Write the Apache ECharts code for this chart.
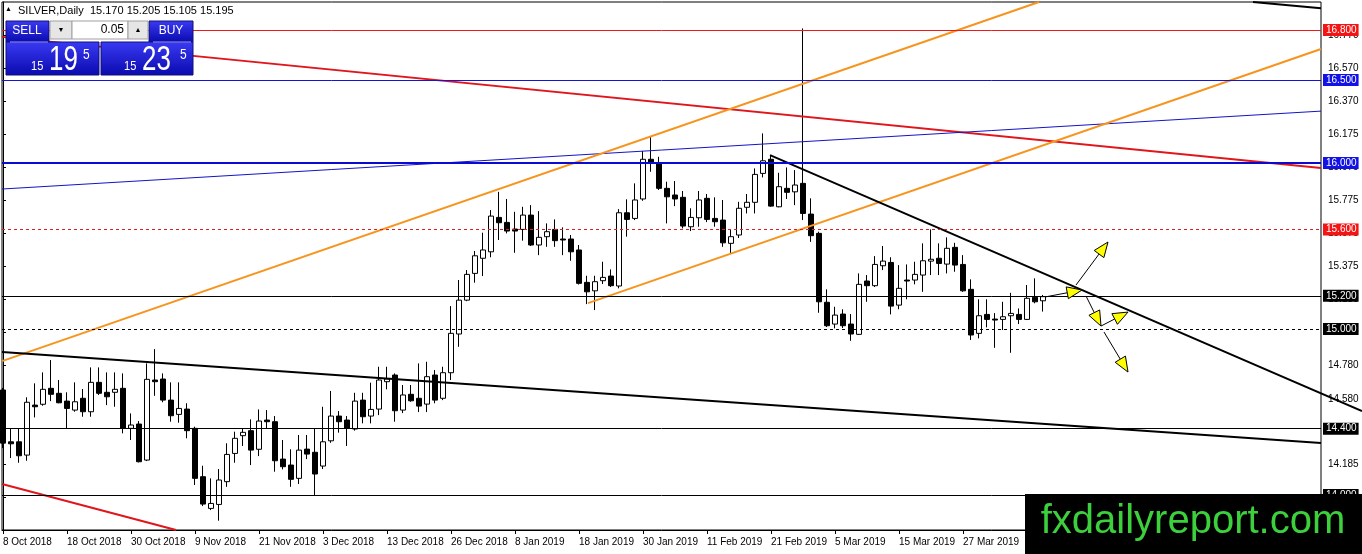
<!DOCTYPE html>
<html><head><meta charset="utf-8">
<script src="https://cdn.jsdelivr.net/npm/echarts@6/dist/echarts.min.js"></script>
<style>html,body{margin:0;padding:0;background:#fff}#c{width:1362px;height:554px}</style>
</head><body><div id="c"></div><script>
// ---------- DATA ----------
const dates = [
'8 Oct 2018','9 Oct 2018','10 Oct 2018','11 Oct 2018','12 Oct 2018','15 Oct 2018','16 Oct 2018','17 Oct 2018','18 Oct 2018','19 Oct 2018',
'22 Oct 2018','23 Oct 2018','24 Oct 2018','25 Oct 2018','26 Oct 2018','29 Oct 2018','30 Oct 2018','31 Oct 2018',
'1 Nov 2018','2 Nov 2018','5 Nov 2018','6 Nov 2018','7 Nov 2018','8 Nov 2018','9 Nov 2018','12 Nov 2018','13 Nov 2018','14 Nov 2018',
'15 Nov 2018','16 Nov 2018','19 Nov 2018','20 Nov 2018','21 Nov 2018','22 Nov 2018','23 Nov 2018','26 Nov 2018','27 Nov 2018','28 Nov 2018',
'29 Nov 2018','30 Nov 2018',
'3 Dec 2018','4 Dec 2018','5 Dec 2018','6 Dec 2018','7 Dec 2018','10 Dec 2018','11 Dec 2018','12 Dec 2018','13 Dec 2018','14 Dec 2018',
'17 Dec 2018','18 Dec 2018','19 Dec 2018','20 Dec 2018','21 Dec 2018','24 Dec 2018','26 Dec 2018','27 Dec 2018','28 Dec 2018','31 Dec 2018',
'2 Jan 2019','3 Jan 2019','4 Jan 2019','7 Jan 2019','8 Jan 2019','9 Jan 2019','10 Jan 2019','11 Jan 2019','14 Jan 2019','15 Jan 2019',
'16 Jan 2019','17 Jan 2019','18 Jan 2019','21 Jan 2019','22 Jan 2019','23 Jan 2019','24 Jan 2019','25 Jan 2019','28 Jan 2019','29 Jan 2019',
'30 Jan 2019','31 Jan 2019',
'1 Feb 2019','4 Feb 2019','5 Feb 2019','6 Feb 2019','7 Feb 2019','8 Feb 2019','11 Feb 2019','12 Feb 2019','13 Feb 2019','14 Feb 2019',
'15 Feb 2019','18 Feb 2019','19 Feb 2019','20 Feb 2019','21 Feb 2019','22 Feb 2019','25 Feb 2019','26 Feb 2019','27 Feb 2019','28 Feb 2019',
'1 Mar 2019','4 Mar 2019','5 Mar 2019','6 Mar 2019','7 Mar 2019','8 Mar 2019','11 Mar 2019','12 Mar 2019','13 Mar 2019','14 Mar 2019',
'15 Mar 2019','18 Mar 2019','19 Mar 2019','20 Mar 2019','21 Mar 2019','22 Mar 2019','25 Mar 2019','26 Mar 2019','27 Mar 2019','28 Mar 2019',
'29 Mar 2019',
'1 Apr 2019','2 Apr 2019','3 Apr 2019','4 Apr 2019','5 Apr 2019','8 Apr 2019','9 Apr 2019','10 Apr 2019'
];
const opens = [
14.633,14.321,14.321,14.241,14.542,14.547,14.643,14.613,14.566,14.512,
14.583,14.502,14.679,14.619,14.619,14.643,14.402,14.428,14.211,14.693,
14.699,14.572,14.486,14.518,14.402,14.111,13.920,13.944,14.081,14.251,
14.358,14.388,14.276,14.452,14.442,14.217,14.181,14.101,14.277,14.258,
14.175,14.327,14.476,14.452,14.398,14.572,14.476,14.518,14.683,14.723,
14.512,14.607,14.583,14.548,14.723,14.583,14.737,14.970,15.174,15.335,
15.426,15.465,15.672,15.642,15.602,15.600,15.686,15.506,15.556,15.600,
15.542,15.542,15.476,15.281,15.230,15.291,15.319,15.259,15.700,15.666,
15.783,16.022,15.998,15.847,15.807,15.793,15.616,15.670,15.787,15.666,
15.656,15.516,15.566,15.733,15.763,15.937,16.022,15.736,15.847,15.826,
15.877,15.692,15.576,15.161,15.030,15.090,15.030,14.968,15.289,15.261,
15.381,15.401,15.144,15.295,15.295,15.325,15.409,15.426,15.391,15.492,
15.389,15.239,14.974,15.088,15.060,15.058,15.080,15.088,15.058,15.191,
15.170];
const highs = [
14.645,14.404,14.404,14.589,14.673,14.739,14.813,14.693,14.619,14.679,
14.639,14.769,14.769,14.739,14.739,14.733,14.492,14.446,14.793,14.879,
14.733,14.679,14.679,14.553,14.412,14.177,14.101,14.157,14.312,14.382,
14.402,14.456,14.516,14.512,14.476,14.332,14.276,14.362,14.362,14.402,
14.532,14.627,14.506,14.476,14.616,14.616,14.677,14.773,14.773,14.733,
14.663,14.663,14.793,14.803,14.753,14.773,15.138,15.295,15.355,15.470,
15.580,15.716,15.826,15.783,15.706,15.736,15.746,15.710,15.636,15.660,
15.612,15.566,15.506,15.321,15.321,15.405,15.359,15.722,15.781,15.877,
16.072,16.162,16.037,15.887,15.891,15.831,15.727,15.831,15.813,15.793,
15.777,15.596,15.766,15.813,15.967,16.178,16.047,15.941,15.973,15.957,
16.810,15.787,15.586,15.239,15.134,15.119,15.090,15.335,15.325,15.439,
15.500,15.432,15.385,15.389,15.405,15.516,15.600,15.516,15.552,15.519,
15.445,15.299,15.179,15.179,15.096,15.164,15.218,15.124,15.265,15.305,
15.205];
const lows = [
14.283,14.223,14.195,14.207,14.468,14.538,14.566,14.553,14.402,14.502,
14.472,14.472,14.603,14.542,14.532,14.372,14.332,14.197,14.205,14.598,
14.559,14.442,14.436,14.342,14.061,13.934,13.910,13.846,14.050,14.195,
14.296,14.181,14.235,14.402,14.141,14.155,14.050,14.067,14.217,14.000,
14.157,14.315,14.376,14.296,14.388,14.432,14.432,14.482,14.637,14.442,
14.494,14.562,14.500,14.500,14.553,14.572,14.693,14.893,15.168,15.279,
15.319,15.432,15.536,15.576,15.459,15.532,15.500,15.445,15.495,15.495,
15.445,15.411,15.268,15.150,15.114,15.271,15.253,15.245,15.556,15.656,
15.772,15.947,15.837,15.636,15.740,15.606,15.590,15.616,15.644,15.616,
15.495,15.456,15.548,15.696,15.696,15.913,15.736,15.733,15.783,15.746,
15.656,15.525,15.098,15.012,15.004,15.006,14.929,14.964,15.164,15.253,
15.355,15.088,15.119,15.179,15.269,15.224,15.325,15.325,15.335,15.345,
15.224,14.934,14.944,15.010,14.887,14.994,14.857,15.030,15.054,15.155,
15.105];
const closes = [
14.313,14.309,14.237,14.559,14.532,14.637,14.607,14.556,14.522,14.562,
14.502,14.679,14.613,14.592,14.637,14.402,14.422,14.201,14.697,14.683,
14.572,14.478,14.522,14.388,14.101,13.946,13.950,14.091,14.245,14.342,
14.378,14.271,14.446,14.442,14.207,14.171,14.095,14.271,14.247,14.127,
14.321,14.476,14.442,14.402,14.566,14.472,14.516,14.693,14.699,14.508,
14.603,14.568,14.536,14.713,14.572,14.737,14.974,15.174,15.329,15.441,
15.476,15.680,15.640,15.590,15.590,15.686,15.506,15.552,15.586,15.532,
15.536,15.465,15.275,15.224,15.285,15.311,15.261,15.700,15.660,15.777,
16.022,16.001,15.847,15.796,15.783,15.620,15.672,15.777,15.660,15.646,
15.519,15.556,15.727,15.763,15.931,16.013,15.740,15.857,15.823,15.867,
15.696,15.562,15.164,15.020,15.084,15.020,14.970,15.269,15.261,15.389,
15.409,15.138,15.245,15.289,15.329,15.411,15.420,15.395,15.486,15.385,
15.230,14.964,15.080,15.058,15.054,15.074,15.094,15.058,15.185,15.164,
15.195];

// price-axis tick labels
const yTickLabels = [16.770,16.570,16.370,16.175,15.975,15.775,15.575,15.375,15.180,14.980,14.780,14.580,14.385,14.185,13.985];
// horizontal levels
const levelValues = [16.800,16.500,16.000,15.600,15.200,15.000,14.400,14.000];
const levelColors = ['#f01818','#1414d8','#0a0ad0','#e01c1c','#000000','#000000','#000000','#000000'];
const levelWidths = [1,1,2,1,1,1,1,1];
const levelDashed = [false,false,false,true,false,true,false,false];
const levelBoxColors = ['#f41414','#1212e6','#1212e6','#f41414','#000000','#000000','#000000','#000000'];

// trend lines: [barIndex, price] endpoints
const redTrend      = [[-0.125,16.759],[164.75,15.969]];
const redLowerTrend = [[-0.125,14.067],[21.625,13.790]];
const blueTrend     = [[-0.125,15.843],[164.75,16.312]];
const orangeUpper   = [[-0.125,14.807],[129.5,16.969]];
const orangeLower   = [[73.125,15.156],[164.75,16.686]];
const blackLower    = [[-0.125,14.861],[164.75,14.314]];
const blackFalling  = [[95.875,16.047],[169.875,14.506]];
const blackTop      = [[156.25,16.969],[164.75,16.932]];
// arrows: [fromIndex, fromPrice, toIndex, toPrice]
const arrows = [
  [130.25,15.193,134.875,15.235],
  [134.125,15.265,138.125,15.524],
  [135.375,15.199,137.25,15.018],
  [137.25,15.018,140.625,15.102],
  [137.625,14.982,140.625,14.741]
];
const xLabelIndices = [0,8,16,24,32,40,48,56,64,72,80,88,96,104,112,120,128];

// ---------- CHART ----------
const FONT = '"Liberation Sans", Arial, sans-serif';
const chart = echarts.init(document.getElementById('c'));

function trend(seg, color, width) {
  return { type:'custom', xAxisIndex:0, yAxisIndex:0, z:4, silent:true, clip:false,
    encode:{x:[0,2], y:[1,3]},
    data:[[seg[0][0], seg[0][1], seg[1][0], seg[1][1]]],
    renderItem:(params, api)=>{
      const a = api.coord([api.value(0), api.value(1)]);
      const b = api.coord([api.value(2), api.value(3)]);
      return {type:'line', shape:{x1:a[0],y1:a[1],x2:b[0],y2:b[1]}, style:{stroke:color, lineWidth:width}};
    } };
}

const levelLines = levelValues.map((v,i)=>({
  yAxis: v,
  lineStyle:{color:levelColors[i], width:levelWidths[i], type: levelDashed[i] ? [3,3] : 'solid'},
  label:{show:true, position:'end', distance:2, formatter: v.toFixed(3), color:'#fff',
    backgroundColor: levelBoxColors[i], padding:[1,2,0,3], fontSize:10, lineHeight:11, fontFamily:FONT}
}));

const gradBlue = {type:'linear',x:0,y:0,x2:0,y2:1,colorStops:[{offset:0,color:'#3a3af4'},{offset:1,color:'#0a0aae'}]};

const option = {
  animation:false,
  backgroundColor:'#fff',
  grid:{left:2,right:41,top:2,bottom:24,show:true,borderColor:'#000',borderWidth:1,backgroundColor:'#fff'},
  xAxis:[{
    type:'value', min:-0.125, max:164.75,
    axisLine:{show:true,onZero:false,lineStyle:{color:'#000',width:1}},
    axisTick:{show:true,customValues:xLabelIndices,length:4,lineStyle:{color:'#000'}},
    axisLabel:{customValues:xLabelIndices, formatter:v=>dates[Math.round(v)]||'', align:'left',
      margin:7, color:'#000', fontSize:10, fontFamily:FONT},
    splitLine:{show:false}
  }],
  yAxis:[{
    type:'value', position:'right', min:13.790, max:16.969,
    axisLine:{show:true,lineStyle:{color:'#000'}},
    axisTick:{show:true,length:3,customValues:yTickLabels,lineStyle:{color:'#000'}},
    axisLabel:{customValues:yTickLabels, formatter:v=>v.toFixed(3), color:'#000', fontSize:10, fontFamily:FONT, margin:7},
    splitLine:{show:false}
  }],
  series:[
    { type:'candlestick', xAxisIndex:0, yAxisIndex:0, z:2, barWidth:5,
      data: dates.map((d,i)=>[i, opens[i], closes[i], lows[i], highs[i]]),
      itemStyle:{color:'#ffffff', color0:'#000000', borderColor:'#000000', borderColor0:'#000000', borderWidth:1} },
    { type:'line', data:[], xAxisIndex:0, yAxisIndex:0, clip:false, z:3, silent:true,
      markLine:{symbol:'none', silent:true, animation:false, data:levelLines} },
    trend(redTrend,'#e0161d',2),
    trend(redLowerTrend,'#e0161d',2),
    trend(blueTrend,'#1414c8',1),
    trend(orangeUpper,'#f7941d',2),
    trend(orangeLower,'#f7941d',2),
    trend(blackLower,'#000000',2),
    trend(blackFalling,'#000000',2),
    trend(blackTop,'#000000',2),
    { type:'custom', xAxisIndex:0, yAxisIndex:0, z:5, silent:true, clip:false,
      encode:{x:[0,2], y:[1,3]}, data:arrows,
      renderItem:(params, api)=>{
        const p1 = api.coord([api.value(0), api.value(1)]);
        const p2 = api.coord([api.value(2), api.value(3)]);
        const dx = p2[0]-p1[0], dy = p2[1]-p1[1];
        const len = Math.hypot(dx,dy), ux = dx/len, uy = dy/len;
        const hl = 15, hw = 6;
        const bx = p2[0]-ux*hl, by = p2[1]-uy*hl, nx = -uy, ny = ux;
        return {type:'group', children:[
          {type:'line', shape:{x1:p1[0],y1:p1[1],x2:bx,y2:by}, style:{stroke:'#000',lineWidth:1}},
          {type:'polygon', shape:{points:[[p2[0],p2[1]],[bx+nx*hw,by+ny*hw],[bx-nx*hw,by-ny*hw]]},
           style:{fill:'#ffff00',stroke:'#000',lineWidth:1}}
        ]};
      } }
  ],
  graphic:[
    // header
    {type:'text', x:5, y:6, z:100, style:{text:'▲', fontSize:7, fill:'#000', fontFamily:FONT}},
    {type:'text', x:18, y:11, z:100, style:{text:'SILVER,Daily  15.170 15.205 15.105 15.195', fontSize:11, fontFamily:FONT, fill:'#000', verticalAlign:'middle'}},
    // sell / buy buttons
    {type:'rect', z:100, shape:{x:6,y:21,width:43,height:21}, style:{fill:gradBlue, stroke:'#10107a', lineWidth:1}},
    {type:'rect', z:100, shape:{x:149,y:21,width:44,height:21}, style:{fill:gradBlue, stroke:'#10107a', lineWidth:1}},
    {type:'text', z:101, x:27, y:31, style:{text:'SELL', fontSize:12, fontFamily:FONT, fill:'#fff', align:'center', verticalAlign:'middle'}},
    {type:'text', z:101, x:171, y:31, style:{text:'BUY', fontSize:12, fontFamily:FONT, fill:'#fff', align:'center', verticalAlign:'middle'}},
    // tiles
    {type:'rect', z:100, shape:{x:6,y:42,width:93,height:33}, style:{fill:gradBlue, stroke:'#10107a', lineWidth:1}},
    {type:'rect', z:100, shape:{x:101,y:42,width:92,height:33}, style:{fill:gradBlue, stroke:'#10107a', lineWidth:1}},
    {type:'line', z:101, shape:{x1:10,y1:42,x2:48,y2:42}, style:{stroke:'#9a9aff', lineWidth:1}},
    {type:'line', z:101, shape:{x1:153,y1:42,x2:191,y2:42}, style:{stroke:'#9a9aff', lineWidth:1}},
    // amount control
    {type:'rect', z:100, shape:{x:50,y:21,width:22,height:18}, style:{fill:'#e6e6e6', stroke:'#a0a0a0', lineWidth:1}},
    {type:'rect', z:100, shape:{x:72,y:21,width:56,height:18}, style:{fill:'#ffffff', stroke:'#a0a0a0', lineWidth:1}},
    {type:'rect', z:100, shape:{x:128,y:21,width:20,height:18}, style:{fill:'#e6e6e6', stroke:'#a0a0a0', lineWidth:1}},
    {type:'text', z:101, x:61, y:30, style:{text:'▼', fontSize:7, fill:'#000', align:'center', verticalAlign:'middle'}},
    {type:'text', z:101, x:138, y:30, style:{text:'▲', fontSize:7, fill:'#000', align:'center', verticalAlign:'middle'}},
    {type:'text', z:101, x:124, y:30, style:{text:'0.05', fontSize:12, fontFamily:FONT, fill:'#000', align:'right', verticalAlign:'middle'}},
    // price digits
    {type:'text', z:101, x:31, y:73, scaleX:0.85, style:{text:'15', fontSize:13, fontFamily:FONT, fill:'#fff', align:'left', verticalAlign:'bottom'}},
    {type:'text', z:101, x:49, y:78, scaleX:0.74, style:{text:'19', fontSize:35, fontFamily:FONT, fill:'#fff', align:'left', verticalAlign:'bottom'}},
    {type:'text', z:101, x:83, y:62, scaleX:0.8, style:{text:'5', fontSize:15, fontFamily:FONT, fill:'#fff', align:'left', verticalAlign:'bottom'}},
    {type:'text', z:101, x:124, y:73, scaleX:0.85, style:{text:'15', fontSize:13, fontFamily:FONT, fill:'#fff', align:'left', verticalAlign:'bottom'}},
    {type:'text', z:101, x:142, y:78, scaleX:0.74, style:{text:'23', fontSize:35, fontFamily:FONT, fill:'#fff', align:'left', verticalAlign:'bottom'}},
    {type:'text', z:101, x:180, y:62, scaleX:0.8, style:{text:'5', fontSize:15, fontFamily:FONT, fill:'#fff', align:'left', verticalAlign:'bottom'}},
    // watermark
    {type:'rect', z:110, shape:{x:1025,y:494,width:337,height:60}, style:{fill:'#000'}},
    {type:'text', z:111, x:1193, y:522, style:{text:'fxdailyreport.com', fontSize:40, fontFamily:FONT, fill:'#3cd03c', align:'center', verticalAlign:'middle'}}
  ]
};
chart.setOption(option);
</script></body></html>
